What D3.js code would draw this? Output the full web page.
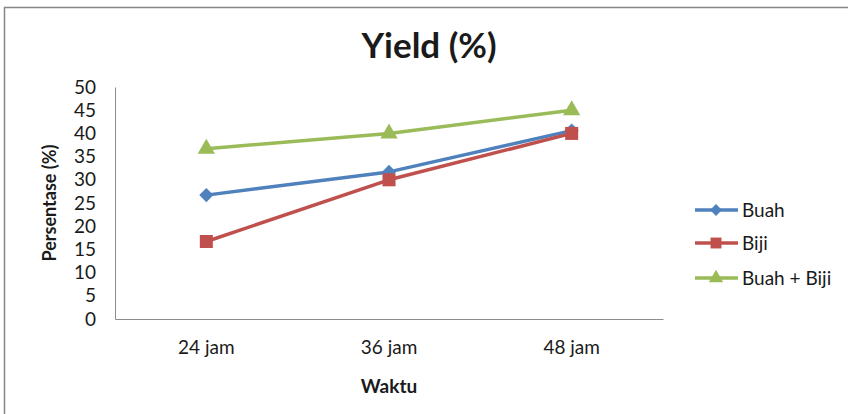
<!DOCTYPE html>
<html>
<head>
<meta charset="utf-8">
<script src="https://cdn.jsdelivr.net/npm/d3@7/dist/d3.min.js"></script>
<style>
  html, body { margin: 0; padding: 0; background: #fff; }
  svg { display: block; }
  text { font-family: Lato, "Open Sans", sans-serif; fill: #1a1a1a; }
</style>
</head>
<body>
<svg id="chart" width="848" height="414"></svg>
<script>
// Yield per sampling time
const categories = ["24 jam", "36 jam", "48 jam"];
const buah = [26.7, 31.7, 40.6];
const biji = [16.7, 30, 40];
const buahBiji = [36.7, 40, 45];
const seriesNames = ["Buah", "Biji", "Buah + Biji"];
const yTicks = [0, 5, 10, 15, 20, 25, 30, 35, 40, 45, 50];

// a diamond drawn as a square turned by 45 degrees
const diamond = {
  draw(context, size) {
    const r = Math.sqrt(size) / 2 * Math.SQRT2;
    context.moveTo(0, -r);
    context.lineTo(r, 0);
    context.lineTo(0, r);
    context.lineTo(-r, 0);
    context.closePath();
  }
};

const series = [
  { name: seriesNames[0], values: buah, color: "#4F81BD", symbol: diamond, size: 100 },
  { name: seriesNames[1], values: biji, color: "#C0504D", symbol: d3.symbolSquare, size: 170 },
  { name: seriesNames[2], values: buahBiji, color: "#9BBB59", symbol: d3.symbolTriangle, size: 130 }
];

const svg = d3.select("#chart");

// outer chart frame
svg.append("rect")
  .attr("x", 4.5).attr("y", 7.5)
  .attr("width", 860).attr("height", 420)
  .attr("fill", "#fff").attr("stroke", "#868686").attr("stroke-width", 1.5);

const plot = { left: 115, right: 663, top: 87, bottom: 319 };

const x = d3.scaleBand().domain(categories).range([plot.left, plot.right]);
const y = d3.scaleLinear().domain([0, 50]).range([plot.bottom, plot.top]);

// y axis
const yAxis = svg.append("g")
  .attr("transform", `translate(${plot.left},0)`)
  .call(d3.axisLeft(y).tickValues(yTicks).tickSize(0).tickPadding(19));
yAxis.select(".domain").attr("stroke", "#8c8c8c").attr("stroke-width", 1);
yAxis.selectAll("text").style("font-size", "19px").attr("fill", "#1a1a1a");

// x axis
const xAxis = svg.append("g")
  .attr("transform", `translate(0,${plot.bottom})`)
  .call(d3.axisBottom(x).tickSize(0).tickPadding(22));
xAxis.select(".domain").attr("stroke", "#8c8c8c").attr("stroke-width", 1);
xAxis.selectAll("text").style("font-size", "19px").attr("fill", "#1a1a1a");

// title and axis titles
svg.append("text")
  .attr("x", 429).attr("y", 58)
  .attr("text-anchor", "middle")
  .style("font-size", "35px").style("font-weight", "bold")
  .text("Yield (%)");

svg.append("text")
  .attr("transform", "translate(56,203) rotate(-90)")
  .attr("text-anchor", "middle")
  .style("font-size", "18px").style("font-weight", "bold")
  .text("Persentase (%)");

svg.append("text")
  .attr("x", 389).attr("y", 393)
  .attr("text-anchor", "middle")
  .style("font-size", "19px").style("font-weight", "bold")
  .text("Waktu");

// series lines and markers
const line = d3.line()
  .x((d, i) => x(categories[i]) + x.bandwidth() / 2)
  .y(d => y(d));

series.forEach(s => {
  svg.append("path")
    .datum(s.values)
    .attr("d", line)
    .attr("fill", "none")
    .attr("stroke", s.color)
    .attr("stroke-width", 3.5)
    .attr("stroke-linejoin", "round");

  svg.selectAll(null)
    .data(s.values)
    .enter()
    .append("path")
    .attr("d", d3.symbol().type(s.symbol).size(s.size))
    .attr("transform", (d, i) => `translate(${x(categories[i]) + x.bandwidth() / 2},${y(d)})`)
    .attr("fill", s.color);
});

// legend
const legend = svg.append("g");
const legendY = [210, 243, 278];
series.forEach((s, i) => {
  const g = legend.append("g").attr("transform", `translate(0,${legendY[i]})`);
  g.append("line")
    .attr("x1", 695).attr("x2", 738)
    .attr("y1", 0).attr("y2", 0)
    .attr("stroke", s.color).attr("stroke-width", 3.5);
  g.append("path")
    .attr("d", d3.symbol().type(s.symbol).size(s.size * 0.7))
    .attr("transform", "translate(716,0)")
    .attr("fill", s.color);
  g.append("text")
    .attr("x", 742).attr("y", 0)
    .attr("dy", "0.35em")
    .style("font-size", "19px")
    .text(s.name);
});
</script>
</body>
</html>
